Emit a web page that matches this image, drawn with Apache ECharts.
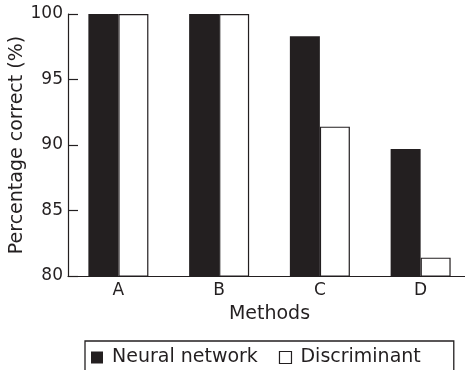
<!DOCTYPE html>
<html>
<head>
<meta charset="utf-8">
<script src="https://cdn.jsdelivr.net/npm/echarts@6/dist/echarts.min.js"></script>
<style>html,body{margin:0;padding:0;background:#fff}#c{width:465px;height:370px}</style>
</head>
<body>
<div id="c"></div>
<script>
var categories = ['A', 'B', 'C', 'D'];
var neuralNetwork = [100, 100, 98.3, 89.7];
var discriminant = [100, 100, 91.4, 81.4];
var yTicks = [80, 85, 90, 95, 100];
var seriesNames = ['Neural network', 'Discriminant'];

var ink = '#231f20';
var font = 'DejaVu Sans';
var chart = echarts.init(document.getElementById('c'), null, {renderer: 'canvas'});
chart.setOption({
  animation: false,
  backgroundColor: '#fff',
  textStyle: {fontFamily: font, color: ink},
  grid: {left: 68, right: -6, top: 14, bottom: 94, containLabel: false, outerBoundsMode: 'none'},
  legend: {
    data: seriesNames.map(function (n, i) {
      return {name: n, itemStyle: i === 0 ? {color: ink, borderWidth: 0} : {color: '#fff', borderColor: ink, borderWidth: 1.2}};
    }),
    left: 85, top: 341,
    icon: 'rect', itemWidth: 12, itemHeight: 12, itemGap: 21,
    padding: [7, 33, 20, 6],
    borderColor: ink, borderWidth: 1.3,
    textStyle: {fontFamily: font, fontSize: 19, color: ink, padding: [0, 0, 0, 4]}
  },
  xAxis: {
    type: 'category', data: categories,
    name: 'Methods', nameLocation: 'middle', nameGap: 29, nameMoveOverlap: false,
    nameTextStyle: {fontFamily: font, fontSize: 19, color: ink},
    axisLine: {lineStyle: {color: ink, width: 1.2}},
    axisTick: {inside: true, length: 7, lineStyle: {color: ink, width: 1.2}},
    axisLabel: {fontFamily: font, fontSize: 17, color: ink, margin: 6}
  },
  yAxis: {
    type: 'value', min: yTicks[0], max: yTicks[yTicks.length - 1], interval: 5,
    name: 'Percentage correct (%)', nameLocation: 'middle', nameGap: 41, nameMoveOverlap: false,
    nameTextStyle: {fontFamily: font, fontSize: 19, color: ink},
    splitLine: {show: false},
    axisLine: {show: true, lineStyle: {color: ink, width: 1.2}},
    axisTick: {show: true, inside: true, length: 10, lineStyle: {color: ink, width: 1.2}},
    axisLabel: {fontFamily: font, fontSize: 17, color: ink, margin: 5}
  },
  series: [
    {name: seriesNames[0], type: 'bar', data: neuralNetwork, barWidth: 30, barGap: '0%',
     itemStyle: {color: ink}},
    {name: seriesNames[1], type: 'bar', data: discriminant, barWidth: 30, barGap: '0%',
     itemStyle: {color: '#fff', borderColor: ink, borderWidth: 1.2}}
  ]
});
</script>
</body>
</html>
